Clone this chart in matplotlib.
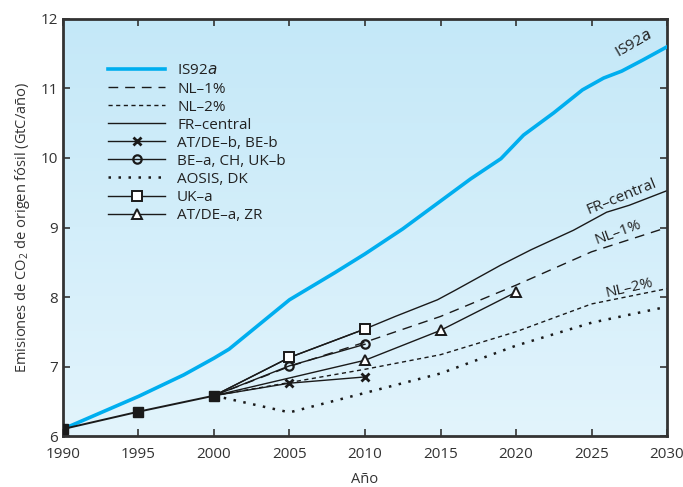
import numpy as np
import matplotlib
matplotlib.use("Agg")
import matplotlib.pyplot as plt

# ================= DATA =================
hist_years = [1990, 1995, 2000]
hist_vals = [6.10, 6.35, 6.58]

is92a_years = [1990, 1995, 1998, 2000, 2001, 2005, 2008, 2010, 2012.5, 2015,
               2017, 2019, 2020.5, 2022.5, 2024.4, 2025.8, 2027, 2028.4, 2030]
is92a_vals = [6.10, 6.57, 6.88, 7.12, 7.25, 7.96, 8.35, 8.62, 8.98, 9.38,
              9.70, 9.99, 10.33, 10.65, 10.98, 11.15, 11.25, 11.41, 11.60]

nl1_years = [2000, 2005, 2010, 2015, 2020, 2025, 2030]
nl1_vals = [6.58, 7.00, 7.35, 7.72, 8.17, 8.65, 9.00]

nl2_years = [2000, 2005, 2010, 2015, 2020, 2025, 2030]
nl2_vals = [6.58, 6.77, 6.96, 7.17, 7.50, 7.90, 8.12]

fr_years = [2000, 2005, 2010, 2012, 2014.8, 2016, 2019, 2021, 2023.8, 2026, 2027.5, 2030]
fr_vals = [6.58, 7.13, 7.54, 7.72, 7.96, 8.10, 8.46, 8.68, 8.96, 9.22, 9.32, 9.53]

atdeb_years = [2000, 2005, 2010]
atdeb_vals = [6.58, 6.76, 6.85]

bea_years = [2000, 2005, 2010]
bea_vals = [6.58, 7.01, 7.32]

aosis_years = [2000, 2005, 2010, 2015, 2020, 2025, 2030]
aosis_vals = [6.58, 6.34, 6.62, 6.90, 7.30, 7.63, 7.86]

uka_years = [2000, 2005, 2010]
uka_vals = [6.58, 7.13, 7.54]

atdea_years = [2000, 2010, 2015, 2020]
atdea_vals = [6.58, 7.09, 7.52, 8.07]

x_ticks = [1990, 1995, 2000, 2005, 2010, 2015, 2020, 2025, 2030]
y_ticks = [6, 7, 8, 9, 10, 11, 12]
# ========================================

plt.rcParams['font.family'] = ['Open Sans', 'DejaVu Sans']
plt.rcParams['font.size'] = 11

fig = plt.figure(figsize=(6.83, 4.87), dpi=100)
ax = fig.add_axes([0.0922, 0.1047, 0.8844, 0.8563])

# gradient background (darker at the top)
grad = np.linspace(0, 1, 256).reshape(-1, 1)
top = np.array([196, 232, 248]) / 255
bot = np.array([226, 244, 252]) / 255
img = top[None, None, :] * (1 - grad[:, :, None]) + bot[None, None, :] * grad[:, :, None]
ax.imshow(img, extent=[1990, 2030, 6, 12], origin='upper', aspect='auto', zorder=0)

blk = '#1a1a1a'
ax.plot(is92a_years, is92a_vals, color='#00aeef', lw=2.6, label='IS92$a$', zorder=3)
ax.plot(nl1_years, nl1_vals, color=blk, lw=1.0, dashes=(7, 5), label='NL–1%', zorder=2)
ax.plot(nl2_years, nl2_vals, color=blk, lw=1.0, dashes=(3, 2.5), label='NL–2%', zorder=2)
ax.plot(fr_years, fr_vals, color=blk, lw=1.0, label='FR–central', zorder=2)
ax.plot(atdeb_years, atdeb_vals, color=blk, lw=1.0, marker='x', ms=6, mew=2,
        markevery=[1, 2], label='AT/DE–b, BE-b', zorder=4)
ax.plot(bea_years, bea_vals, color=blk, lw=1.0, marker='o', ms=6, mew=1.6, mfc='none',
        markevery=[1, 2], label='BE–a, CH, UK–b', zorder=4)
ax.plot(aosis_years, aosis_vals, color=blk, lw=1.8, linestyle=(0, (1, 3)),
        label='AOSIS, DK', zorder=2)
ax.plot(uka_years, uka_vals, color=blk, lw=1.0, marker='s', ms=7, mew=1.4, mfc='white',
        markevery=[1, 2], label='UK–a', zorder=4)
ax.plot(atdea_years, atdea_vals, color=blk, lw=1.0, marker='^', ms=7, mew=1.4, mfc='white',
        markevery=[1, 2, 3], label='AT/DE–a, ZR', zorder=4)
ax.plot(hist_years, hist_vals, color=blk, lw=1.4, marker='s', ms=7, mfc=blk, zorder=5)

# line labels
ax.text(2026.4, 11.45, 'IS92$a$', rotation=30, fontsize=11, color='#222222')
ax.text(2024.5, 9.2, 'FR–central', rotation=22, fontsize=11, color='#222222')
ax.text(2025.1, 8.77, 'NL–1%', rotation=20, fontsize=11, color='#222222')
ax.text(2025.8, 8.0, 'NL–2%', rotation=13, fontsize=11, color='#222222')

ax.set_xlim(1990, 2030)
ax.set_ylim(6, 12)
ax.set_xticks(x_ticks)
ax.set_yticks(y_ticks)
ax.tick_params(direction='in', length=5, width=1.2, top=True, right=True,
               labelsize=11, colors='#333333')
ax.tick_params(axis='x', pad=8)
for s in ax.spines.values():
    s.set_linewidth(2)
    s.set_color('#333333')

ax.set_xlabel('Año', fontsize=10.5, color='#333333', labelpad=7)
ax.set_ylabel('Emisiones de CO$_\\mathregular{2}$ de origen fósil (GtC/año)', fontsize=10.5,
              color='#333333', labelpad=6)

leg = ax.legend(loc='upper left', bbox_to_anchor=(0.065, 0.908), frameon=False,
                handlelength=3.7, handletextpad=0.8, labelspacing=0.2, fontsize=11,
                borderaxespad=0)
for t in leg.get_texts():
    t.set_color('#222222')

fig.savefig('out.png', dpi=100)
